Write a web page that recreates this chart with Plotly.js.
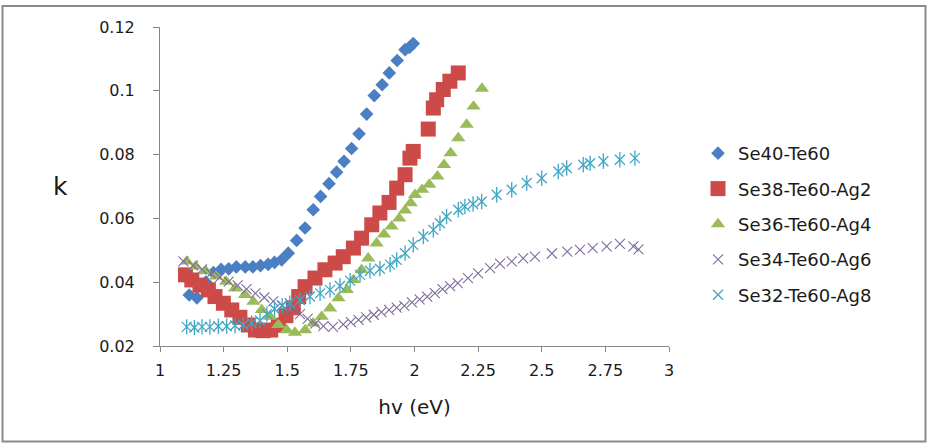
<!DOCTYPE html>
<html>
<head>
<meta charset="utf-8">
<script src="https://cdn.plot.ly/plotly-3.0.1.min.js"></script>
<style>
  html, body { margin: 0; padding: 0; background: #ffffff; }
  #chart { width: 928px; height: 444px; }
</style>
</head>
<body>
<div id="chart"></div>
<script>
// Extinction coefficient k versus photon energy hv for Se-Te-Ag thin films
const seriesNames = ['Se40-Te60', 'Se38-Te60-Ag2', 'Se36-Te60-Ag4', 'Se34-Te60-Ag6', 'Se32-Te60-Ag8'];

const se40X = [1.115,1.145,1.18,1.21,1.24,1.27,1.30,1.335,1.365,1.395,1.425,1.45,1.478,1.504,1.537,1.570,1.602,1.631,1.664,1.694,1.723,1.753,1.782,1.812,1.842,1.873,1.901,1.932,1.963,1.980,1.995];
const se40K = [0.0360,0.0351,0.0400,0.0430,0.0440,0.0442,0.0448,0.0448,0.0448,0.0452,0.0456,0.0462,0.0470,0.0491,0.0531,0.0570,0.0627,0.0669,0.0709,0.0745,0.0779,0.0819,0.0865,0.0927,0.0985,0.1019,0.1056,0.1095,0.1129,0.1136,0.1148];

const se38X = [1.100,1.125,1.157,1.190,1.216,1.249,1.282,1.314,1.347,1.375,1.405,1.435,1.465,1.495,1.524,1.545,1.570,1.609,1.648,1.688,1.720,1.760,1.792,1.832,1.864,1.900,1.930,1.963,1.982,1.995,2.054,2.074,2.087,2.113,2.139,2.172];
const se38K = [0.0423,0.0407,0.0391,0.0376,0.0355,0.0334,0.0313,0.0290,0.0266,0.0250,0.0248,0.0250,0.0265,0.0295,0.0320,0.0355,0.0386,0.0413,0.0439,0.0460,0.0480,0.0507,0.0538,0.0580,0.0617,0.0650,0.0695,0.0737,0.0789,0.0810,0.0880,0.0946,0.0972,0.1004,0.1030,0.1056];

const se36X = [1.105,1.140,1.180,1.220,1.260,1.295,1.334,1.367,1.400,1.432,1.465,1.498,1.530,1.570,1.602,1.635,1.668,1.701,1.734,1.760,1.792,1.818,1.851,1.880,1.910,1.940,1.963,1.985,2.002,2.030,2.058,2.090,2.116,2.142,2.172,2.205,2.232,2.265];
const se36K = [0.0465,0.0450,0.0435,0.0418,0.0402,0.0381,0.0360,0.0339,0.0313,0.0292,0.0266,0.0250,0.0242,0.0250,0.0271,0.0292,0.0318,0.0350,0.0376,0.0407,0.0439,0.0475,0.0522,0.0550,0.0575,0.0600,0.0625,0.0648,0.0674,0.0690,0.0706,0.0732,0.0768,0.0805,0.0852,0.0894,0.0951,0.1007];

const se34X = [1.092,1.130,1.165,1.200,1.235,1.270,1.305,1.340,1.375,1.410,1.445,1.480,1.515,1.550,1.580,1.610,1.642,1.680,1.720,1.750,1.780,1.810,1.840,1.870,1.900,1.930,1.960,1.990,2.020,2.050,2.080,2.110,2.140,2.170,2.210,2.250,2.297,2.336,2.382,2.427,2.473,2.540,2.600,2.650,2.700,2.755,2.807,2.860,2.880];
const se34K = [0.0465,0.0452,0.0440,0.0428,0.0415,0.0402,0.0390,0.0378,0.0365,0.0352,0.0340,0.0328,0.0315,0.0300,0.0285,0.0270,0.0262,0.0260,0.0268,0.0275,0.0282,0.0290,0.0298,0.0306,0.0313,0.0320,0.0326,0.0337,0.0346,0.0355,0.0366,0.0378,0.0388,0.0397,0.0413,0.0428,0.0444,0.0458,0.0465,0.0475,0.0480,0.0490,0.0496,0.0501,0.0507,0.0512,0.0520,0.0512,0.0503];

const se32X = [1.105,1.135,1.165,1.196,1.229,1.262,1.295,1.327,1.360,1.393,1.420,1.450,1.480,1.510,1.550,1.589,1.629,1.668,1.707,1.747,1.786,1.825,1.864,1.904,1.930,1.963,1.995,2.035,2.074,2.100,2.126,2.172,2.198,2.230,2.264,2.323,2.382,2.441,2.500,2.565,2.598,2.663,2.690,2.742,2.807,2.866];
const se32K = [0.0260,0.0258,0.0260,0.0260,0.0262,0.0262,0.0264,0.0266,0.0272,0.0280,0.0300,0.0316,0.0326,0.0334,0.0344,0.0355,0.0365,0.0376,0.0388,0.0405,0.0423,0.0436,0.0442,0.0455,0.0470,0.0491,0.0517,0.0543,0.0564,0.0585,0.0606,0.0627,0.0637,0.0645,0.0653,0.0674,0.0690,0.0711,0.0726,0.0747,0.0758,0.0768,0.0773,0.0779,0.0784,0.0789];

const xTickVals = [1, 1.25, 1.5, 1.75, 2, 2.25, 2.5, 2.75, 3];
const xTickText = ['1', '1.25', '1.5', '1.75', '2', '2.25', '2.5', '2.75', '3'];
const yTickVals = [0.02, 0.04, 0.06, 0.08, 0.1, 0.12];
const yTickText = ['0.02', '0.04', '0.06', '0.08', '0.1', '0.12'];

const FONT = 'DejaVu Sans, Liberation Sans, sans-serif';
const AXIS_GREY = '#868686';
const STAR = '#3fa6c4';

const traces = [
  { x: se40X, y: se40K, name: seriesNames[0], legendgroup: 'g1', type: 'scatter', mode: 'markers',
    marker: { symbol: 'diamond', size: 10.5, color: '#4a7fc4' } },
  { x: se38X, y: se38K, name: seriesNames[1], legendgroup: 'g2', type: 'scatter', mode: 'markers',
    marker: { symbol: 'square', size: 15, color: '#cc4a47' } },
  { x: se36X, y: se36K, name: seriesNames[2], legendgroup: 'g3', type: 'scatter', mode: 'markers',
    marker: { symbol: 'triangle-up', size: 12.5, color: '#9bbb59' } },
  { x: se34X, y: se34K, name: seriesNames[3], legendgroup: 'g4', type: 'scatter', mode: 'markers',
    marker: { symbol: 'x-thin-open', size: 10, color: '#7f6c9c', line: { width: 1.1, color: '#7f6c9c' } } },
  // star marker = diagonal cross plus a vertical stroke
  { x: se32X, y: se32K, name: seriesNames[4], legendgroup: 'g5', type: 'scatter', mode: 'markers',
    marker: { symbol: 'x-thin-open', size: 10, color: STAR, line: { width: 1.3, color: STAR } } },
  { x: se32X, y: se32K, name: seriesNames[4], legendgroup: 'g5', showlegend: false, type: 'scatter', mode: 'markers',
    marker: { symbol: 'line-ns-open', size: 11, color: STAR, line: { width: 1.3, color: STAR } } }
];

// plot area: 160..669 px horizontally, 27..346 px vertically
const L = 160, R = 259, T = 27, B = 98, PW = 509, PH = 319;
const px2x = p => (p - L) / PW;
const px2y = p => (444 - B - p) / PH;

const layout = {
  width: 928, height: 444,
  margin: { l: L, r: R, t: T, b: B, pad: 0 },
  paper_bgcolor: '#ffffff', plot_bgcolor: '#ffffff',
  font: { family: FONT, color: '#1a1a1a', size: 16 },
  showlegend: true,
  xaxis: {
    range: [1, 3], tickvals: xTickVals, ticktext: xTickText,
    showgrid: false, zeroline: false, showline: true, linecolor: AXIS_GREY, linewidth: 1,
    ticks: 'outside', ticklen: 5, tickcolor: AXIS_GREY, tickwidth: 1,
    ticklabelstandoff: 5,
    tickfont: { family: FONT, size: 16, color: '#1a1a1a' },
    title: { text: 'hv (eV)', font: { family: FONT, size: 20, color: '#1a1a1a' }, standoff: 20 }
  },
  yaxis: {
    range: [0.02, 0.12], tickvals: yTickVals, ticktext: yTickText,
    showgrid: false, zeroline: false, showline: true, linecolor: AXIS_GREY, linewidth: 1,
    ticks: 'outside', ticklen: 6, tickcolor: AXIS_GREY, tickwidth: 1,
    ticklabelstandoff: 15,
    tickfont: { family: FONT, size: 16, color: '#1a1a1a' }
  },
  legend: {
    x: px2x(698), y: px2y(135), xanchor: 'left', yanchor: 'top',
    traceorder: 'grouped', tracegroupgap: 9,
    font: { family: FONT, size: 18, color: '#1a1a1a' },
    bgcolor: 'rgba(0,0,0,0)', borderwidth: 0
  },
  annotations: [
    { text: 'k', xref: 'paper', yref: 'paper', x: px2x(60), y: px2y(187),
      xanchor: 'center', yanchor: 'middle', showarrow: false,
      font: { family: FONT, size: 25, color: '#1a1a1a' } }
  ],
  shapes: [
    { type: 'rect', xref: 'paper', yref: 'paper',
      x0: px2x(2.5), x1: px2x(925.5), y0: px2y(441.5), y1: px2y(6),
      line: { color: '#8a8a8a', width: 2 }, fillcolor: 'rgba(0,0,0,0)', layer: 'below' }
  ]
};

Plotly.newPlot('chart', traces, layout, { displayModeBar: false, staticPlot: true });
</script>
</body>
</html>
